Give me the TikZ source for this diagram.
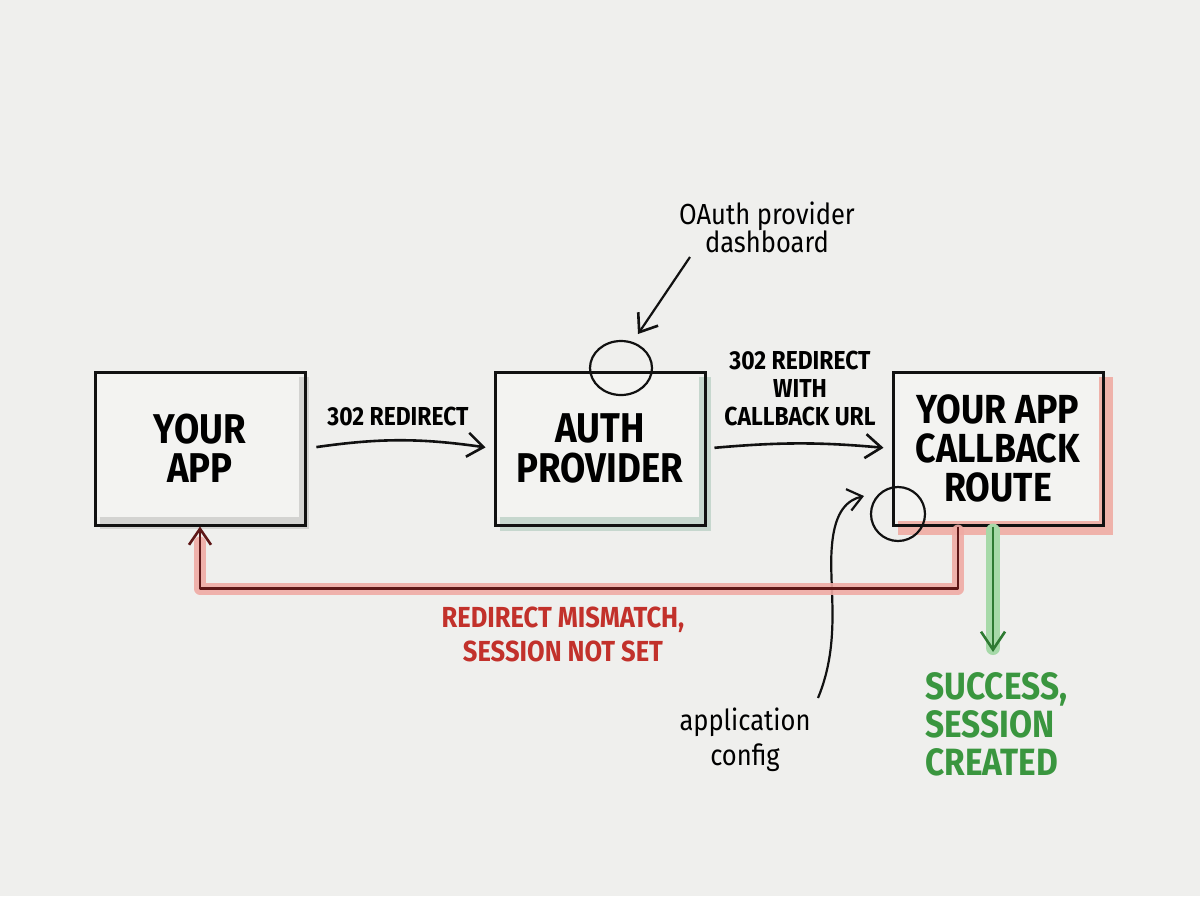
\documentclass[tikz,border=0pt]{standalone}
\usepackage{fontspec}
\setmainfont{Fira Sans}[FakeStretch=0.88]
\usetikzlibrary{arrows.meta,backgrounds,shapes.geometric}
\definecolor{bg}{HTML}{EFEFED}
\definecolor{boxfill}{HTML}{F3F3F1}
\definecolor{shgrey}{HTML}{D3D3D1}
\definecolor{shgreen}{HTML}{C6D7CE}
\definecolor{shpink}{HTML}{EFB2AA}
\definecolor{redtxt}{HTML}{C2312B}
\definecolor{redline}{HTML}{5E1717}
\definecolor{redglow}{HTML}{F0ABA4}
\definecolor{greentxt}{HTML}{3A963F}
\definecolor{greenline}{HTML}{2E7A32}
\definecolor{greenglow}{HTML}{A6D9A8}
\definecolor{ink}{HTML}{111111}
\tikzset{
  box/.style={draw=ink, line width=1.5pt, minimum width=105pt, minimum height=76.5pt,
    inner sep=0pt, align=center, font=\bfseries\fontsize{20.8}{19.6}\selectfont},
  flowlbl/.style={align=center, inner sep=1pt, font=\bfseries\fontsize{13}{14}\selectfont},
  note/.style={align=center, inner sep=1pt, font=\fontsize{14.5}{14}\selectfont},
  arr/.style={draw=ink, line width=1.3pt, -{Straight Barb[length=8pt,width=12pt,line width=1.3pt]}},
  ring/.style={draw=ink, line width=1.1pt, ellipse, inner sep=0pt}
}
\begin{document}
\begin{tikzpicture}[x=0.5pt,y=-0.5pt]
\useasboundingbox (0,0) rectangle (1200,896);

% boxes
\node[box] (app) at (200,448.5) {YOUR\\APP};
\node[box] (auth) at (600,448.5) {AUTH\\PROVIDER};
\node[box, font=\bfseries\fontsize{20.3}{19.4}\selectfont] (cb) at (998,448.5) {YOUR APP\\CALLBACK\\ROUTE};

\begin{scope}[on background layer]
  \fill[bg] (0,0) rectangle (1200,896);
  % app shadow
  \fill[shgrey] ([xshift=3pt,yshift=-3pt]app.north west) rectangle ([xshift=1pt,yshift=-1pt]app.south east);
  \fill[boxfill] (app.north west) rectangle ([xshift=-4pt,yshift=5pt]app.south east);
  % auth shadow
  \fill[shgreen] ([xshift=3pt,yshift=-3pt]auth.north west) rectangle ([xshift=2pt,yshift=-2pt]auth.south east);
  \fill[boxfill] (auth.north west) rectangle ([xshift=-4pt,yshift=5pt]auth.south east);
  % callback shadow
  \fill[shpink] ([xshift=3pt,yshift=-3pt]cb.north west) rectangle ([xshift=4pt,yshift=-4pt]cb.south east);
  \fill[boxfill] (cb.north west) rectangle ([xshift=-3pt,yshift=3pt]cb.south east);
\end{scope}

% arrow 1
\node[flowlbl] (l1) at (398,416) {302 REDIRECT};
\draw[arr, shorten <=5pt, shorten >=4pt] (app.east) .. controls (380,438) and (420,438) .. (auth.west);

% arrow 2
\node[flowlbl] (l2) at (800,388) {302 REDIRECT\\WITH\\CALLBACK URL};
\draw[arr, shorten <=4pt, shorten >=4pt] (auth.east) .. controls (780,442) and (820,442) .. (cb.west);

% oauth note
\node[note] (oauth) at (767,227) {OAuth provider\\dashboard};
\node[ring, minimum width=31pt, minimum height=27pt] (c1) at (621,368) {};
\coordinate (oa1) at (690,257);
\coordinate (oa2) at (638,334);
\draw[arr, line width=1.1pt] (oa1) -- (oa2);

% application config note
\node[note, font=\fontsize{14.5}{17.5}\selectfont] (appcfg) at (745,740) {application\\config};
\node[ring, circle, minimum size=27pt] (c2) at (898,514) {};
\coordinate (ac1) at (818,698);
\coordinate (ac2) at (864,496);
\draw[arr, line width=1.1pt, -{Straight Barb[length=7pt,width=11pt,line width=1.1pt]}]
  (ac1) .. controls (842,640) and (828,585) .. (832,545) .. controls (835,510) and (848,500) .. (ac2);

% failure loop
\coordinate (r1) at ([xshift=-20pt]cb.south);
\coordinate (r2) at ([xshift=-20pt,yshift=-31pt]cb.south);
\draw[redglow, line width=6pt, line join=round, line cap=round, opacity=0.9]
  ([yshift=-2pt]r1) -- (r2) -| ([yshift=-8pt]app.south);
\draw[redline, line width=1.3pt, line join=round,
  -{Straight Barb[length=8pt,width=11pt,line width=1.3pt]}]
  (r1) -- (r2) -| (app.south);
\node[font=\bfseries\fontsize{14.5}{17}\selectfont, text=redtxt, align=center] (fail) at (563,634)
  {REDIRECT MISMATCH,\\SESSION NOT SET};

% success
\coordinate (g1) at ([xshift=-2.5pt]cb.south);
\coordinate (g2) at (993,652);
\draw[greenglow, line width=7pt, line cap=round] ([yshift=-2pt]g1) -- ([yshift=2pt]g2);
\draw[greenline, line width=1.3pt, -{Straight Barb[length=9pt,width=12pt,line width=1.3pt]}] (g1) -- (g2);
\node[anchor=north west, inner sep=0pt, align=left, text=greentxt,
  font=\bfseries\fontsize{19}{19}\selectfont] (succ) at (925,672)
  {SUCCESS,\\SESSION\\CREATED};
\end{tikzpicture}
\end{document}
